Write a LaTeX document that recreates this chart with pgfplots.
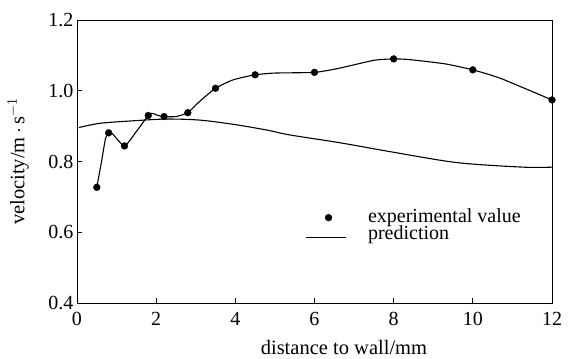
\documentclass[border=0pt]{standalone}
\usepackage{fontspec}
\setmainfont{Liberation Serif}
\usepackage{pgfplots}
\pgfplotsset{compat=1.18}
\begin{document}
\begin{tikzpicture}
\begin{axis}[
  scale only axis, width=475pt, height=283pt,
  xmin=0, xmax=12, ymin=0.4, ymax=1.2,
  xtick={0,2,4,6,8,10,12}, ytick={0.4,0.6,0.8,1.0,1.2},
  yticklabel style={/pgf/number format/fixed,/pgf/number format/fixed zerofill,/pgf/number format/precision=1, xshift=0pt},
  xticklabel style={yshift=-6pt},
  /pgf/number format/assume math mode=true,
  tick align=inside, xtick pos=bottom, ytick pos=left,
  major tick length=5pt,
  tick style={black, line width=0.8pt},
  axis line style={line width=0.9pt},
  ticklabel style={font=\fontsize{20}{20}\selectfont},
  xlabel={distance to wall/mm},
  ylabel={velocity/m\,$\cdot$\,s$^{-1}$},
  label style={font=\fontsize{20.5}{21}\selectfont},
  xlabel style={at={(axis description cs:0.562,0)}, anchor=base, yshift=-52pt},
  ylabel style={at={(axis description cs:-0.124,0.5)}, anchor=center},
  legend style={draw=none, fill=none, inner sep=0pt, outer sep=0pt,
    at={(axis description cs:0.48,0.328)}, anchor=north west,
    font=\fontsize{20}{20}\selectfont, row sep=0pt, column sep=0pt,
    nodes={inner sep=0.5pt, text height=12pt, text depth=4pt},
    cells={anchor=west}},
]
\addplot[black, line width=1.1pt, smooth, tension=0.35, forget plot] coordinates {
(0.5,0.727)(0.62,0.80)(0.72,0.865)(0.8,0.881)(0.9,0.878)(1.2,0.844)(1.5,0.885)(1.8,0.930)(1.9,0.936)(2.05,0.93)(2.2,0.927)(2.5,0.927)(2.8,0.938)(3.1,0.97)(3.5,1.007)(3.95,1.031)(4.5,1.045)(5.0,1.05)(6,1.052)(6.6,1.063)(7.5,1.086)(8,1.090)(8.4,1.088)(9.3,1.076)(10,1.059)(10.7,1.035)(12,0.974)
};
\addplot[only marks, mark=*, mark size=3.4pt, black,
  legend image code/.code={\path[draw=none] (0pt,0pt) -- (62pt,0pt); \fill[black] (23pt,1pt) circle (3.4pt);}] coordinates {
(0.5,0.727)(0.8,0.881)(1.2,0.844)(1.8,0.930)(2.2,0.927)(2.8,0.938)(3.5,1.007)(4.5,1.045)(6,1.052)(8,1.090)(10,1.059)(12,0.974)
};
\addlegendentry{experimental value}
\addplot[black, line width=1.1pt, smooth, tension=0.5,
  legend image code/.code={\path[draw=none] (0pt,0pt) -- (62pt,0pt); \draw[black, line width=1.1pt] (0pt,-2pt) -- (40pt,-2pt);}] coordinates {
(0.05,0.896)(0.58,0.908)(1.42,0.915)(2.26,0.92)(3.1,0.917)(3.95,0.905)(4.79,0.889)(5.38,0.875)(6.64,0.853)(7.9,0.828)(9.59,0.797)(11.27,0.784)(12,0.784)
};
\addlegendentry{prediction}
\end{axis}
\pgfresetboundingbox
\path ([shift={(-77pt,-56pt)}]current axis.south west) rectangle ([shift={(27pt,20pt)}]current axis.north east);
\end{tikzpicture}
\end{document}
